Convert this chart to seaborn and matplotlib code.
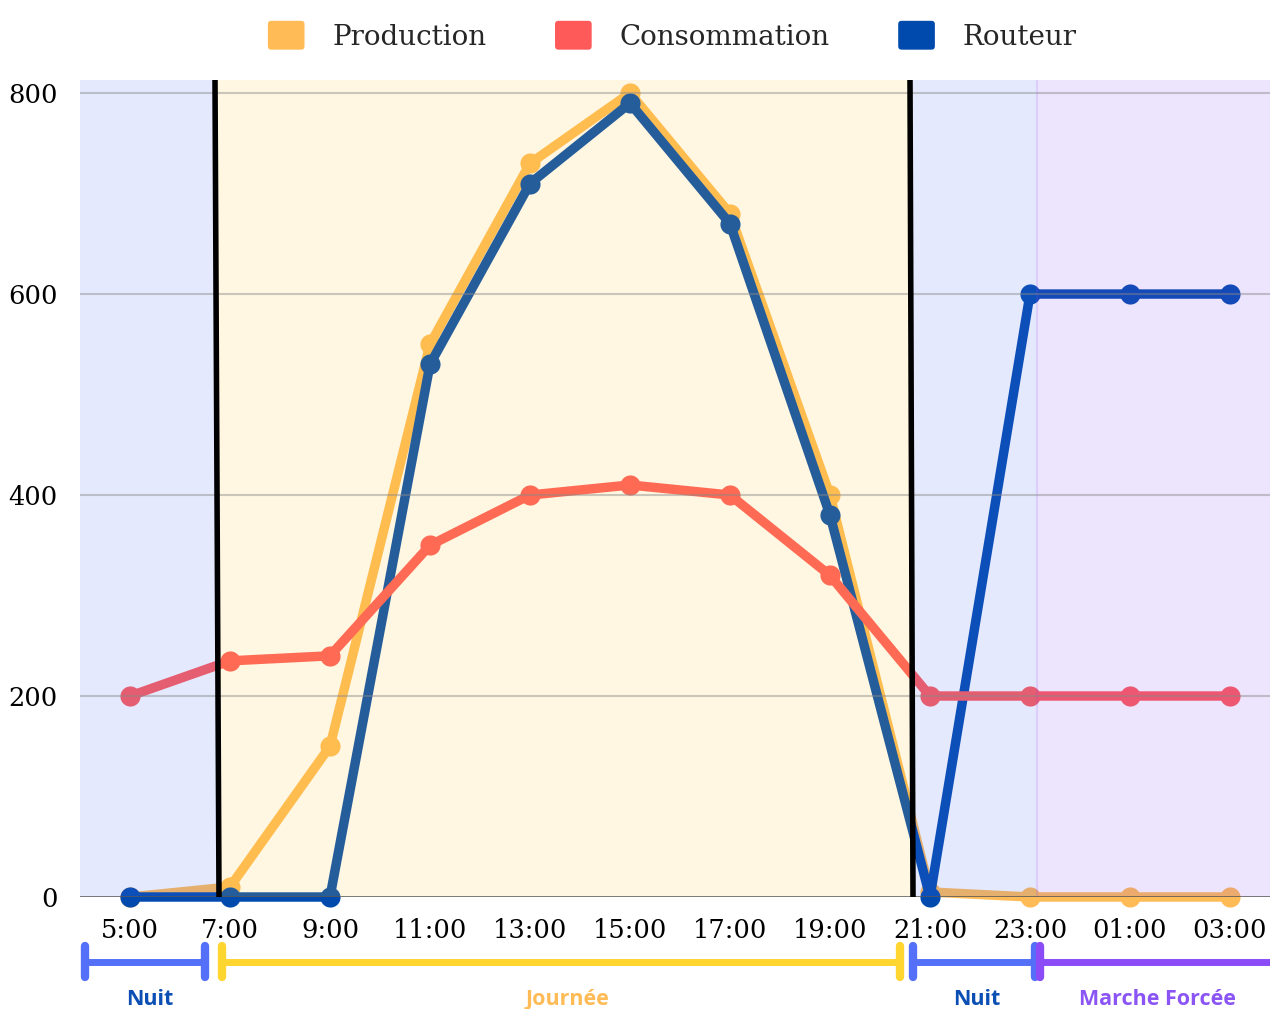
import numpy as np
import pandas as pd
import matplotlib
matplotlib.use("Agg")
import matplotlib.pyplot as plt
import seaborn as sns
from matplotlib.patches import Patch, FancyBboxPatch
from matplotlib.legend_handler import HandlerPatch

# --- données ---
heures = ["5:00", "7:00", "9:00", "11:00", "13:00", "15:00", "17:00",
          "19:00", "21:00", "23:00", "01:00", "03:00"]
production = [0, 10, 150, 550, 730, 800, 680, 400, 5, 0, 0, 0]
consommation = [200, 235, 240, 350, 400, 410, 400, 320, 200, 200, 200, 200]
routeur = [0, 0, 0, 530, 710, 790, 670, 380, 0, 600, 600, 600]
yticks = [0, 200, 400, 600, 800]

# plages horaires (en index de catégorie)
plages = [(-0.5, 0.87, "#5570f8"), (0.87, 7.82, "#ffcc3a"),
          (7.82, 9.07, "#5570f8"), (9.07, 11.4, "#8b4cf7")]
periodes = [
    ("Nuit", -0.45, 0.75, "#5570f8", "#0b4fb5", True, True),
    ("Journée", 0.92, 7.70, "#ffd530", "#ffbb55", True, True),
    ("Nuit", 7.83, 9.05, "#5570f8", "#0b4fb5", True, True),
    ("Marche Forcée", 9.10, 11.4, "#8b4cf7", "#8b55f5", True, False),
]
label_x = [0.2, 4.38, 8.47, 10.27]

df = pd.DataFrame({"x": np.arange(len(heures)), "Production": production,
                   "Consommation": consommation, "Routeur": routeur})
couleurs = {"Production": "#ffbb55", "Consommation": "#ff5a5a", "Routeur": "#004aad"}

sns.set_theme(style="white")
plt.rcParams["font.family"] = ["DejaVu Serif"]

fig = plt.figure(figsize=(12.7, 10.09), dpi=100)
ax = fig.add_axes([80 / 1270, 1 - 897 / 1009, 1190 / 1270, 817 / 1009])

for serie, z in [("Production", 2), ("Routeur", 3), ("Consommation", 4)]:
    sns.lineplot(data=df, x="x", y=serie, ax=ax, color=couleurs[serie], lw=6.8,
                 marker="o", markersize=14.5, markeredgewidth=0, clip_on=False,
                 zorder=z)

# fonds colorés par-dessus (teinte légère)
for x0, x1, c in plages:
    ax.axvspan(x0, x1, color=c, alpha=0.15, lw=0, zorder=5)
ax.axvline(9.07, color="#8b4cf7", alpha=0.15, lw=1.5, zorder=5)

for y in yticks[1:]:
    ax.axhline(y, color="#888888", alpha=0.45, lw=1.5, zorder=6)
ax.axhline(0, color="#555555", lw=1.8, zorder=7)

# séparateurs jour / nuit
ax.plot([0.85, 0.89], [813, 0], color="black", lw=4, zorder=8)
ax.plot([7.80, 7.83], [813, 0], color="black", lw=4, zorder=8)

ax.set_xlim(-0.5, 11.4)
ax.set_ylim(0, 813)
ax.set_xticks(np.arange(len(heures)))
ax.set_xticklabels(heures)
ax.set_yticks(yticks)
ax.tick_params(axis="x", length=0, pad=15, labelsize=18.5, colors="black")
ax.tick_params(axis="y", length=0, pad=16, labelsize=18.5, colors="black")
ax.set_xlabel("")
ax.set_ylabel("")
sns.despine(ax=ax, left=True, bottom=True)

# barres de période sous l'axe
tr = ax.get_xaxis_transform()
yb, yc0, yc1, yl = -0.0796, -0.060, -0.098, -0.126
for (nom, a, b, cb, ct, capa, capb), lx in zip(periodes, label_x):
    ax.plot([a, b], [yb, yb], color=cb, lw=5, transform=tr, clip_on=False,
            solid_capstyle="butt")
    if capa:
        ax.plot([a, a], [yc0, yc1], color=cb, lw=6, transform=tr, clip_on=False,
                solid_capstyle="round")
    if capb:
        ax.plot([b, b], [yc0, yc1], color=cb, lw=6, transform=tr, clip_on=False,
                solid_capstyle="round")
    ax.text(lx, yl, nom, transform=tr, ha="center", va="center", color=ct,
            fontsize=15.5, fontweight="bold", family=["Open Sans", "DejaVu Sans"])


def carre_arrondi(legend, orig_handle, xdescent, ydescent, width, height, fontsize):
    return FancyBboxPatch((-xdescent, -ydescent), width, height,
                          boxstyle="round,pad=0,rounding_size=3")


handles = [Patch(facecolor=c, label=k) for k, c in couleurs.items()]
fig.legend(handles=handles, loc="center", bbox_to_anchor=(0.529, 0.965), ncol=3,
           frameon=False, fontsize=20, handlelength=1.37, handleheight=1.3,
           handletextpad=0.97, columnspacing=2.45,
           handler_map={Patch: HandlerPatch(patch_func=carre_arrondi)})

fig.savefig("out.png", dpi=100)
